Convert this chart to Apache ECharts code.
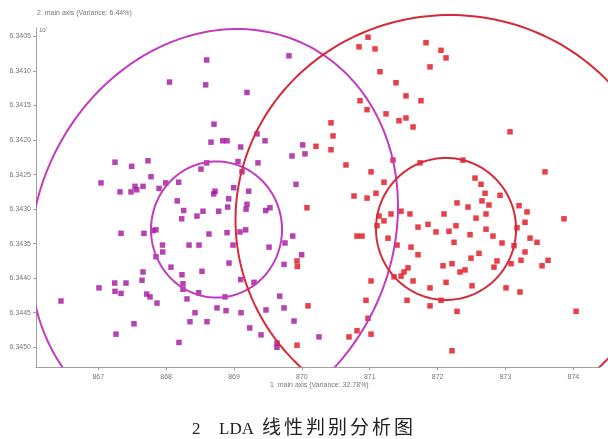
<!DOCTYPE html>
<html>
<head>
<meta charset="utf-8">
<script src="https://cdn.jsdelivr.net/npm/echarts@6/dist/echarts.min.js"></script>
<style>
  html, body { margin: 0; padding: 0; background: #fff; }
  #chart { width: 608px; height: 439px; }
</style>
</head>
<body>
<div id="chart"></div>
<script>
// Axis tick values
const xTicks = [867, 868, 869, 870, 871, 872, 873, 874];
const yTicks = [6.3405, 6.3410, 6.3415, 6.3420, 6.3425, 6.3430, 6.3435, 6.3440, 6.3445, 6.3450];

// Group 1 scores (axis 1, axis 2)
const purplePoints = [
  [868.597, 6.34084], [869.810, 6.34078], [868.049, 6.34116], [868.583, 6.34120], [869.191, 6.34131],
  [868.705, 6.34177], [869.339, 6.34191], [868.833, 6.34201], [868.897, 6.34201], [868.661, 6.34203],
  [869.457, 6.34201], [867.246, 6.34232], [867.492, 6.34238], [867.732, 6.34230], [867.040, 6.34262],
  [867.777, 6.34253], [867.320, 6.34275], [867.482, 6.34275], [867.541, 6.34267], [867.566, 6.34272],
  [867.659, 6.34267], [867.895, 6.34270], [867.993, 6.34262], [867.335, 6.34335], [867.673, 6.34335],
  [867.802, 6.34331], [867.850, 6.34330], [867.946, 6.34352], [869.098, 6.34210], [870.012, 6.34207],
  [869.854, 6.34223], [870.046, 6.34220], [868.597, 6.34233], [868.513, 6.34242], [869.059, 6.34231],
  [869.353, 6.34233], [869.118, 6.34246], [868.185, 6.34261], [869.913, 6.34264], [868.995, 6.34269],
  [869.216, 6.34274], [868.720, 6.34274], [868.701, 6.34278], [868.922, 6.34285], [868.164, 6.34288],
  [869.191, 6.34293], [868.907, 6.34297], [869.177, 6.34300], [868.258, 6.34302], [868.543, 6.34303],
  [868.454, 6.34310], [868.774, 6.34303], [869.467, 6.34302], [869.530, 6.34298], [868.229, 6.34314],
  [868.631, 6.34336], [868.897, 6.34334], [869.088, 6.34333], [869.172, 6.34330], [869.865, 6.34339],
  [868.337, 6.34352], [868.484, 6.34352], [868.985, 6.34352], [869.516, 6.34355], [869.751, 6.34349],
  [867.949, 6.34362], [867.850, 6.34369], [868.071, 6.34384], [867.659, 6.34391], [867.644, 6.34403],
  [867.242, 6.34407], [867.408, 6.34407], [867.010, 6.34414], [867.246, 6.34419], [867.335, 6.34422],
  [867.713, 6.34423], [867.762, 6.34427], [867.865, 6.34436], [866.450, 6.34433], [867.526, 6.34466],
  [867.261, 6.34481], [869.997, 6.34366], [869.737, 6.34380], [868.528, 6.34390], [868.926, 6.34378],
  [868.233, 6.34395], [868.248, 6.34408], [868.248, 6.34416], [869.098, 6.34402], [869.294, 6.34406],
  [868.480, 6.34421], [868.307, 6.34430], [868.867, 6.34427], [869.673, 6.34426], [868.749, 6.34443],
  [868.882, 6.34447], [869.103, 6.34450], [869.471, 6.34446], [869.737, 6.34443], [868.425, 6.34450],
  [868.351, 6.34463], [868.602, 6.34463], [869.884, 6.34462], [869.231, 6.34472], [869.398, 6.34482],
  [868.189, 6.34493], [869.633, 6.34494], [869.633, 6.34500], [870.252, 6.34485]
];

// Group 2 scores (axis 1, axis 2)
const redPoints = [
  [870.075, 6.34298], [869.928, 6.34375], [869.933, 6.34383], [870.090, 6.34440], [869.928, 6.34497],
  [870.974, 6.34051], [870.842, 6.34065], [871.078, 6.34068], [871.829, 6.34059], [872.050, 6.34070],
  [872.124, 6.34081], [871.888, 6.34094], [871.151, 6.34101], [871.387, 6.34117], [871.534, 6.34136],
  [871.755, 6.34143], [870.857, 6.34143], [870.960, 6.34156], [871.240, 6.34162], [871.431, 6.34172],
  [871.534, 6.34168], [871.638, 6.34181], [870.429, 6.34175], [870.459, 6.34194], [873.067, 6.34188],
  [870.208, 6.34209], [870.429, 6.34214], [870.650, 6.34236], [871.019, 6.34246], [871.343, 6.34229],
  [871.741, 6.34233], [871.210, 6.34261], [871.092, 6.34277], [870.960, 6.34284], [870.768, 6.34281],
  [872.551, 6.34255], [872.640, 6.34264], [872.699, 6.34277], [872.920, 6.34280], [873.583, 6.34246],
  [873.200, 6.34295], [873.317, 6.34304], [873.288, 6.34319], [873.170, 6.34327], [873.362, 6.34342],
  [873.288, 6.34362], [873.229, 6.34374], [873.082, 6.34379], [873.627, 6.34374], [873.539, 6.34382],
  [873.863, 6.34314], [874.040, 6.34448], [873.008, 6.34414], [872.831, 6.34384], [872.875, 6.34375],
  [872.610, 6.34364], [872.492, 6.34371], [872.404, 6.34388], [872.330, 6.34391], [872.212, 6.34379],
  [872.080, 6.34382], [872.242, 6.34348], [872.168, 6.34332], [872.271, 6.34324], [872.566, 6.34313],
  [872.713, 6.34307], [872.757, 6.34294], [872.448, 6.34297], [872.654, 6.34288], [872.286, 6.34291],
  [872.094, 6.34307], [871.859, 6.34322], [871.711, 6.34326], [871.593, 6.34307], [871.461, 6.34303],
  [871.313, 6.34307], [871.210, 6.34317], [871.137, 6.34310], [871.107, 6.34324], [870.812, 6.34339],
  [870.886, 6.34339], [871.269, 6.34342], [871.402, 6.34352], [871.608, 6.34355], [871.711, 6.34366],
  [871.564, 6.34385], [871.505, 6.34391], [871.461, 6.34397], [871.358, 6.34398], [871.638, 6.34404],
  [871.888, 6.34414], [872.124, 6.34406], [871.888, 6.34440], [872.050, 6.34432], [872.286, 6.34448],
  [871.549, 6.34432], [871.019, 6.34404], [870.945, 6.34432], [870.974, 6.34458], [870.812, 6.34476],
  [871.019, 6.34481], [870.694, 6.34485], [872.212, 6.34505], [872.949, 6.34349], [873.126, 6.34353],
  [873.465, 6.34348], [873.214, 6.34420], [872.507, 6.34411], [872.713, 6.34329], [872.816, 6.34339],
  [872.478, 6.34337], [871.976, 6.34333], [872.374, 6.34229]
];

// Confidence ellipses: [centre x, centre y, half width, half height, tilt]
const purpleEllipses = [
  [868.742, 6.343295, 0.965, 0.000985, 0],
  [868.705, 6.343331, 2.711, 0.002916, -0.000369]
];
const redEllipses = [
  [872.124, 6.343287, 1.032, 0.001028, 0],
  [872.183, 6.343157, 3.161, 0.002968, 0]
];

const PURPLE = '#a3159c';
const PURPLE_LINE = '#c23abe';
const RED = '#e2101a';
const RED_LINE = '#d72a38';
const AXIS_GREY = '#a0a0a0';
const LABEL_GREY = '#777';

function ellipseRenderer(color) {
  return function (params, api) {
    const cx = api.value(0), cy = api.value(1);
    const a = api.value(2), b = api.value(3), k = api.value(4);
    const pts = [];
    const n = 240;
    for (let i = 0; i <= n; i++) {
      const t = i / n * Math.PI * 2;
      pts.push(api.coord([cx + a * Math.cos(t), cy + k * Math.cos(t) + b * Math.sin(t)]));
    }
    const cs = params.coordSys;
    return {
      type: 'polyline',
      shape: { points: pts },
      style: { fill: 'none', stroke: color, lineWidth: 2 },
      clipPath: { type: 'rect', shape: { x: cs.x, y: cs.y - 16, width: cs.width + 8, height: cs.height + 16 } }
    };
  };
}

// Figure caption, laid out glyph by glyph for the wide CJK spacing
const captionFont = '"Liberation Serif", "Noto Sans CJK SC", serif';
const captionParts = [
  { text: '2', left: 192, size: 17 },
  { text: 'LDA', left: 219, size: 17 }
];
'线性判别分析图'.split('').forEach((ch, i) => {
  captionParts.push({ text: ch, left: 262 + i * 22, size: 19 });
});
const captionGraphics = captionParts.map(p => ({
  type: 'text', left: p.left, top: 431 - p.size * 0.6,
  style: { text: p.text, fontSize: p.size, fill: '#222', fontFamily: captionFont }
}));

const chart = echarts.init(document.getElementById('chart'), null, { renderer: 'canvas' });

chart.setOption({
  animation: false,
  backgroundColor: '#fff',
  grid: { left: 36, right: 8, top: 28, bottom: 71.7, containLabel: false },
  xAxis: {
    type: 'value',
    min: 866.082,
    max: 874.393,
    axisLine: { lineStyle: { color: AXIS_GREY, width: 1 } },
    axisTick: { show: true, customValues: xTicks, length: 3, lineStyle: { color: AXIS_GREY } },
    axisLabel: {
      customValues: xTicks, fontSize: 7, color: LABEL_GREY, margin: 6,
      fontFamily: 'Liberation Sans', formatter: v => String(Math.round(v))
    },
    splitLine: { show: false }
  },
  yAxis: {
    type: 'value',
    inverse: true,
    min: 6.340377,
    max: 6.34529,
    axisLine: { show: true, lineStyle: { color: AXIS_GREY, width: 1 } },
    axisTick: { show: true, customValues: yTicks, length: 3, lineStyle: { color: AXIS_GREY } },
    axisLabel: {
      customValues: yTicks, fontSize: 7, color: LABEL_GREY, margin: 5,
      fontFamily: 'Liberation Sans', formatter: v => v.toFixed(4)
    },
    splitLine: { show: false }
  },
  graphic: [
    { type: 'text', left: 37, top: 10,
      style: { text: '2  main axis (Variance: 6.44%)', fontSize: 7, fill: LABEL_GREY, fontFamily: 'Liberation Sans' } },
    { type: 'text', left: 39, top: 27,
      style: { text: '10\u2077', fontSize: 6, fill: LABEL_GREY, fontFamily: 'Liberation Sans' } },
    { type: 'text', left: 270, top: 382,
      style: { text: '1  main axis (Variance: 32.78%)', fontSize: 7, fill: LABEL_GREY, fontFamily: 'Liberation Sans' } }
  ].concat(captionGraphics),
  series: [
    {
      type: 'scatter', data: purplePoints, symbol: 'rect', symbolSize: 5.5,
      itemStyle: { color: PURPLE }, z: 2
    },
    {
      type: 'scatter', data: redPoints, symbol: 'rect', symbolSize: 5.5,
      itemStyle: { color: RED }, z: 2
    },
    {
      type: 'custom', data: purpleEllipses, renderItem: ellipseRenderer(PURPLE_LINE), z: 3,
      silent: true
    },
    {
      type: 'custom', data: redEllipses, renderItem: ellipseRenderer(RED_LINE), z: 3,
      silent: true
    }
  ]
});
</script>
</body>
</html>
